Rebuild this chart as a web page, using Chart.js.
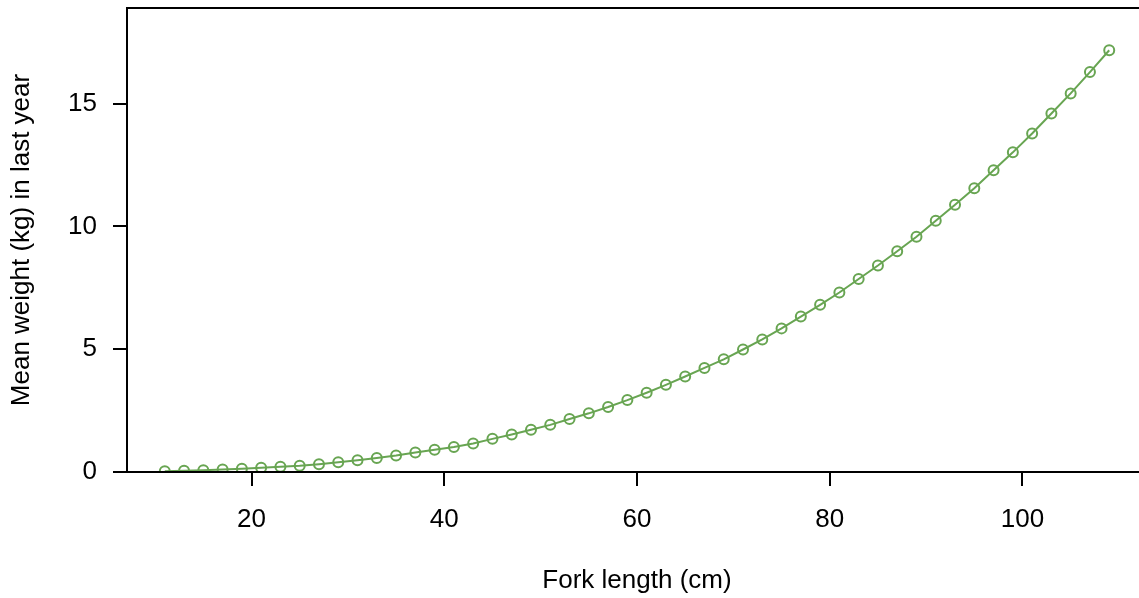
<!DOCTYPE html>
<html>
<head>
<meta charset="utf-8">
<script src="https://cdn.jsdelivr.net/npm/chart.js@4"></script>
<style>
  html, body { margin: 0; padding: 0; background: #fff; overflow: hidden; }
  #wrap { width: 1139px; height: 598px; overflow: hidden; position: relative; }
  #chart { position: absolute; left: 0; top: 0; }
</style>
</head>
<body>
<div id="wrap"><canvas id="chart" width="1147" height="598"></canvas></div>
<script>
// fork length (cm) and mean weight (kg)
const lengths = [11, 13, 15, 17, 19, 21, 23, 25, 27, 29,
                 31, 33, 35, 37, 39, 41, 43, 45, 47, 49,
                 51, 53, 55, 57, 59, 61, 63, 65, 67, 69,
                 71, 73, 75, 77, 79, 81, 83, 85, 87, 89,
                 91, 93, 95, 97, 99, 101, 103, 105, 107, 109];
const weights = [0.03, 0.05, 0.07, 0.10, 0.13, 0.17, 0.21, 0.25, 0.32, 0.40,
                 0.48, 0.57, 0.67, 0.79, 0.91, 1.02, 1.16, 1.35, 1.53, 1.72,
                 1.92, 2.16, 2.39, 2.65, 2.93, 3.23, 3.55, 3.89, 4.24, 4.59,
                 4.99, 5.40, 5.85, 6.33, 6.81, 7.31, 7.86, 8.41, 8.99, 9.58,
                 10.23, 10.89, 11.56, 12.29, 13.02, 13.79, 14.60, 15.42, 16.29, 17.18];
const xTicks = [20, 40, 60, 80, 100];
const yTicks = [0, 5, 10, 15];

Chart.defaults.font.family = '"Liberation Sans", Arial, sans-serif';
Chart.defaults.font.size = 26;
Chart.defaults.color = '#000';

// R-style box around the plot region
const boxPlugin = {
  id: 'box',
  afterDraw(chart) {
    const { ctx, chartArea: a } = chart;
    ctx.save();
    ctx.strokeStyle = '#000';
    ctx.lineWidth = 2;
    ctx.strokeRect(a.left, a.top, a.right - a.left, a.bottom - a.top);
    ctx.restore();
  }
};

const green = '#68a552';

new Chart(document.getElementById('chart'), {
  type: 'line',
  data: {
    datasets: [{
      data: lengths.map((l, i) => ({ x: l, y: weights[i] })),
      borderColor: green,
      borderWidth: 2,
      pointStyle: 'circle',
      pointRadius: 5,
      pointBorderWidth: 2,
      pointBorderColor: green,
      pointBackgroundColor: 'rgba(0,0,0,0)',
      tension: 0,
      clip: 0
    }]
  },
  options: {
    responsive: false,
    maintainAspectRatio: false,
    animation: false,
    layout: { autoPadding: false, padding: { top: 8, right: 0, bottom: 0, left: 0 } },
    plugins: { legend: { display: false }, tooltip: { enabled: false } },
    scales: {
      x: {
        type: 'linear',
        min: 7.08,
        max: 112.92,
        afterFit: s => { s.height = 126; s.paddingLeft = 0; s.paddingRight = 0; },
        afterBuildTicks: s => { s.ticks = xTicks.map(v => ({ value: v })); },
        border: { display: false },
        grid: { drawOnChartArea: false, color: '#000', lineWidth: 2, tickLength: 14 },
        ticks: { padding: 18, maxRotation: 0 },
        title: { display: true, text: 'Fork length (cm)', padding: { top: 0, bottom: 2 } }
      },
      y: {
        min: 0,
        max: 18.9,
        afterFit: s => { s.width = 127; s.paddingTop = 0; s.paddingBottom = 0; },
        afterBuildTicks: s => { s.ticks = yTicks.map(v => ({ value: v })); },
        border: { display: false },
        grid: { drawOnChartArea: false, color: '#000', lineWidth: 2, tickLength: 14 },
        ticks: { padding: 16 },
        title: { display: true, text: 'Mean weight (kg) in last year', padding: { top: 6, bottom: 0 } }
      }
    }
  },
  plugins: [boxPlugin]
});
</script>
</body>
</html>
